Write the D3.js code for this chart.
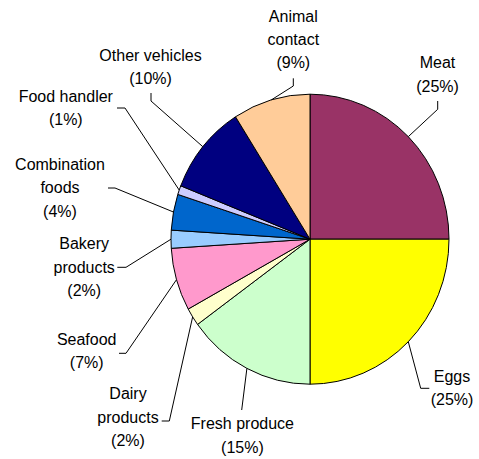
<!DOCTYPE html>
<html>
<head>
<meta charset="utf-8">
<script src="https://cdn.jsdelivr.net/npm/d3@7"></script>
<style>
  html, body { margin: 0; padding: 0; background: #fff; }
  svg { display: block; }
  text { font-family: "Liberation Sans", Arial, sans-serif; font-size: 16px; fill: #000; }
</style>
</head>
<body>
<svg id="chart" width="479" height="459"></svg>
<script>
// ---- data ----
const categories = ["Meat", "Eggs", "Fresh produce", "Dairy products", "Seafood",
  "Bakery products", "Combination foods", "Food handler", "Other vehicles", "Animal contact"];
const values = [25, 25, 15, 2, 7, 2, 4, 1, 10, 9];
const labelLines = [
  ["Meat"], ["Eggs"], ["Fresh produce"], ["Dairy", "products"], ["Seafood"],
  ["Bakery", "products"], ["Combination", "foods"], ["Food handler"], ["Other vehicles"], ["Animal", "contact"]
];
const colors = ["#993366", "#FFFF00", "#CCFFCC", "#FFFFCC", "#FF99CC",
  "#99CCFF", "#0066CC", "#CCCCFF", "#000080", "#FFCC99"];

// ---- layout (label positions and leader elbows) ----
const labelLayout = [
  { tx: 437.5, ty: 68.3,  ex: 437.7, ey: 109.3, hx: 437.7, hy: 101 },
  { tx: 452,   ty: 381.7, ex: 420.7, ey: 388.3, hx: 429.3, hy: 388.3 },
  { tx: 242.4, ty: 429.3, ex: 241.7, ey: 410,   hx: 241.7, hy: 410 },
  { tx: 128,   ty: 399.3, ex: 169.3, ey: 421,   hx: 161.7, hy: 421 },
  { tx: 86.7,  ty: 345,   ex: 126,   ey: 353.3, hx: 119,   hy: 353.3 },
  { tx: 84.2,  ty: 249.3, ex: 126,   ey: 267.3, hx: 117.3, hy: 267.3 },
  { tx: 60,    ty: 170,   ex: 115,   ey: 188,   hx: 108,   hy: 188 },
  { tx: 65.8,  ty: 101.7, ex: 125,   ey: 108,   hx: 117,   hy: 108 },
  { tx: 150.5, ty: 60.5,  ex: 151,   ey: 101,   hx: 151,   hy: 93 },
  { tx: 293.3, ty: 21.7,  ex: 293.3, ey: 86,    hx: 293.3, hy: 78.3 }
];

const cx = 310, cy = 239.2, rx = 139, ry = 145;
const lineStep = 23.3;

const svg = d3.select("#chart");
const pie = d3.pie().sort(null).value(d => d.value);
const data = categories.map((c, i) => ({ name: c, value: values[i], color: colors[i], lines: labelLines[i], lay: labelLayout[i] }));
const arcs = pie(data);
const arc = d3.arc().innerRadius(0).outerRadius(rx);

const g = svg.append("g").attr("transform", `translate(${cx},${cy}) scale(1,${ry / rx})`);
g.selectAll("path")
  .data(arcs)
  .join("path")
  .attr("d", arc)
  .attr("fill", d => d.data.color)
  .attr("stroke", "#000")
  .attr("stroke-width", 1)
  .attr("vector-effect", "non-scaling-stroke")
  .attr("stroke-linejoin", "round");

// leader lines
const total = d3.sum(values);
svg.append("g").selectAll("polyline")
  .data(arcs)
  .join("polyline")
  .attr("points", d => {
    const a = (d.startAngle + d.endAngle) / 2;
    const px = cx + rx * Math.sin(a), py = cy - ry * Math.cos(a);
    const L = d.data.lay;
    return [[px, py], [L.ex, L.ey], [L.hx, L.hy]].map(p => p.join(",")).join(" ");
  })
  .attr("fill", "none")
  .attr("stroke", "#000")
  .attr("stroke-width", 1);

// labels
const lbl = svg.append("g").selectAll("text")
  .data(arcs)
  .join("text")
  .attr("text-anchor", "middle")
  .attr("x", d => d.data.lay.tx)
  .attr("y", d => d.data.lay.ty);
lbl.each(function (d) {
  const t = d3.select(this);
  const lines = d.data.lines.concat([`(${Math.round(d.data.value / total * 100)}%)`]);
  lines.forEach((s, i) => {
    t.append("tspan").attr("x", d.data.lay.tx).attr("dy", i === 0 ? 0 : lineStep).text(s);
  });
});
</script>
</body>
</html>
